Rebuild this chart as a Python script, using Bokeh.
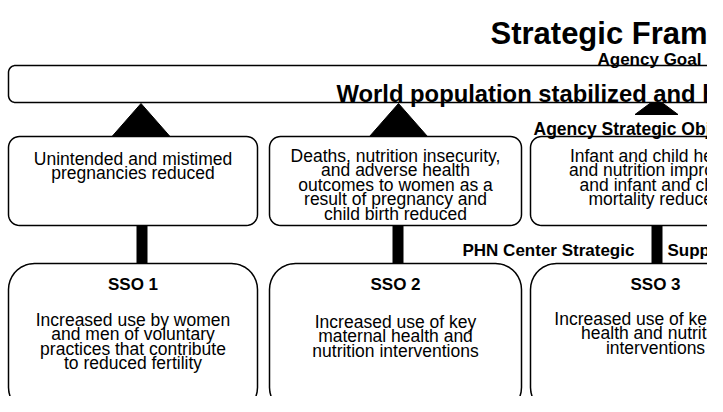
import numpy as np
from bokeh.plotting import figure
from bokeh.models import Range1d, ColumnDataSource
from bokeh.core.properties import value
from bokeh.embed import file_html
from bokeh.resources import INLINE

# ---------------- content ----------------
title_text = "Strategic Framework"
goal_label = "Agency Goal"
goal_text = "World population stabilized and human health sustained"
aso_label = "Agency Strategic Objectives"
sso_label_left = "PHN Center Strategic"
sso_label_right = "Support Objectives"

aso_texts = [
    ["Unintended and mistimed", "pregnancies reduced"],
    ["Deaths, nutrition insecurity,", "and adverse health",
     "outcomes to women as a", "result of pregnancy and", "child birth reduced"],
    ["Infant and child health", "and nutrition improved",
     "and infant and child", "mortality reduced"],
]
sso_names = ["SSO 1", "SSO 2", "SSO 3"]
sso_texts = [
    ["Increased use by women", "and men of voluntary",
     "practices that contribute", "to reduced fertility"],
    ["Increased use of key", "maternal health and", "nutrition interventions"],
    ["Increased use of key child", "health and nutrition", "interventions"],
]

# ---------------- layout ----------------
FONT = value("Liberation Sans")
col_left = [8, 269, 530]
col_right = [257, 521, 780]
col_center = [(a + b) / 2 for a, b in zip(col_left, col_right)]

W, H = 707, 396
p = figure(width=W, height=H, output_backend="svg", toolbar_location=None,
           x_range=Range1d(0, W), y_range=Range1d(H, 0),
           min_border=0, x_axis_location=None, y_axis_location=None,
           outline_line_color=None, background_fill_color="white",
           border_fill_color="white")
p.xgrid.visible = False
p.ygrid.visible = False


def rrect(x0, y0, x1, y1, r, n=10):
    xs, ys = [], []
    corners = [(x1 - r, y0 + r, -np.pi / 2, 0.0),
               (x1 - r, y1 - r, 0.0, np.pi / 2),
               (x0 + r, y1 - r, np.pi / 2, np.pi),
               (x0 + r, y0 + r, np.pi, 1.5 * np.pi)]
    for cx, cy, a0, a1 in corners:
        t = np.linspace(a0, a1, n)
        xs.extend(cx + r * np.cos(t))
        ys.extend(cy + r * np.sin(t))
    return list(xs), list(ys)


# triangles (connectors up to goal)
tri_xs, tri_ys = [], []
for c, apex, base, hw in [(col_center[0] + 8, 103, 136, 29),
                          (col_center[1] + 3, 103, 136, 29),
                          (656, 98, 114, 21.5)]:
    tri_xs.append([c - hw, c, c + hw])
    tri_ys.append([base, apex, base])
p.patches(xs=tri_xs, ys=tri_ys, fill_color="black", line_color="black", line_width=1)

# stems between rows
stem_c = [141.5, 397.5, 656.5]
p.quad(left=[c - 5.5 for c in stem_c], right=[c + 5.5 for c in stem_c],
       top=[224] * 3, bottom=[264] * 3, fill_color="black", line_color=None)

# boxes
bx, by = [], []
x, y = rrect(8, 65, 1300, 102, 7)
bx.append(x); by.append(y)
for l, r in zip(col_left, col_right):
    x, y = rrect(l, 136, r, 225, 11)
    bx.append(x); by.append(y)
for l, r in zip(col_left, col_right):
    x, y = rrect(l, 263, r, 413, 26)
    bx.append(x); by.append(y)
p.patches(xs=bx, ys=by, fill_color="white", line_color="black", line_width=1.5)

# ---------------- texts ----------------
def put(xs, ys, texts, size, bold=False, align="center"):
    src = ColumnDataSource(dict(x=xs, y=ys, t=texts))
    p.text(x="x", y="y", text="t", source=src, text_align=align,
           text_baseline="alphabetic", text_font=FONT,
           text_font_size=f"{size}px",
           text_font_style="bold" if bold else "normal", text_color="black")

put([490], [33], [title_text], 31, bold=True, align="left")
put([597], [59], [goal_label], 17, bold=True, align="left")
put([336], [93], [goal_text], 23.8, bold=True, align="left")
put([533], [128], [aso_label], 17.5, bold=True, align="left")
put([462, 667], [250, 250], [sso_label_left, sso_label_right], 17, bold=True, align="left")

LS = 14.6
starts1 = [158, 155, 155]
xs, ys, ts = [], [], []
for c, s, lines in zip(col_center, starts1, aso_texts):
    for i, ln in enumerate(lines):
        xs.append(c); ys.append(s + i * LS); ts.append(ln)
put(xs, ys, ts, 17.5)

put(col_center, [284] * 3, sso_names, 17, bold=True)

starts2 = [319, 321, 318]
xs, ys, ts = [], [], []
for c, s, lines in zip(col_center, starts2, sso_texts):
    for i, ln in enumerate(lines):
        xs.append(c); ys.append(s + i * LS); ts.append(ln)
put(xs, ys, ts, 17.5)

open("out.html", "w").write(file_html(p, INLINE))
